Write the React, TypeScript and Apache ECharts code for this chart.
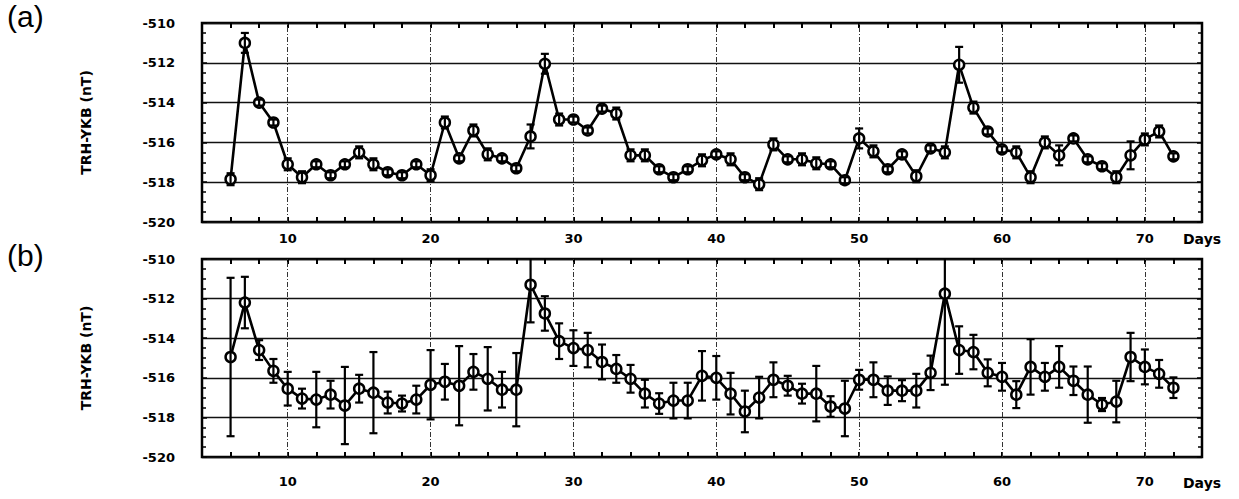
import React, { useEffect, useRef } from "react";
import * as echarts from "echarts";

const days = [6, 7, 8, 9, 10, 11, 12, 13, 14, 15, 16, 17, 18, 19, 20, 21, 22, 23, 24, 25, 26, 27, 28, 29, 30, 31, 32, 33, 34, 35, 36, 37, 38, 39, 40, 41, 42, 43, 44, 45, 46, 47, 48, 49, 50, 51, 52, 53, 54, 55, 56, 57, 58, 59, 60, 61, 62, 63, 64, 65, 66, 67, 68, 69, 70, 71, 72];

const valuesA = [-517.85, -511.0, -514.0, -515.0, -517.1, -517.75, -517.1, -517.65, -517.1, -516.5, -517.1, -517.5, -517.65, -517.1, -517.65, -515.0, -516.8, -515.4, -516.6, -516.8, -517.3, -515.7, -512.05, -514.85, -514.85, -515.4, -514.3, -514.55, -516.65, -516.65, -517.35, -517.75, -517.35, -516.9, -516.6, -516.85, -517.75, -518.1, -516.1, -516.85, -516.85, -517.05, -517.1, -517.9, -515.8, -516.45, -517.35, -516.6, -517.7, -516.3, -516.5, -512.1, -514.25, -515.45, -516.35, -516.5, -517.75, -516.0, -516.65, -515.8, -516.85, -517.2, -517.75, -516.65, -515.85, -515.45, -516.7];
const errorsA = [0.3, 0.5, 0.15, 0.15, 0.3, 0.3, 0.15, 0.15, 0.15, 0.3, 0.3, 0.15, 0.15, 0.15, 0.3, 0.3, 0.15, 0.3, 0.3, 0.15, 0.15, 0.6, 0.5, 0.3, 0.15, 0.15, 0.15, 0.3, 0.3, 0.3, 0.15, 0.15, 0.15, 0.3, 0.15, 0.3, 0.15, 0.3, 0.3, 0.15, 0.3, 0.3, 0.15, 0.15, 0.5, 0.3, 0.15, 0.15, 0.3, 0.15, 0.3, 0.9, 0.3, 0.15, 0.15, 0.3, 0.3, 0.3, 0.5, 0.15, 0.15, 0.15, 0.3, 0.7, 0.3, 0.3, 0.15];

const valuesB = [-514.95, -512.2, -514.6, -515.65, -516.55, -517.05, -517.1, -516.85, -517.4, -516.55, -516.75, -517.25, -517.3, -517.1, -516.35, -516.2, -516.4, -515.7, -516.05, -516.6, -516.6, -511.3, -512.75, -514.15, -514.5, -514.6, -515.2, -515.55, -516.05, -516.8, -517.3, -517.15, -517.15, -515.9, -516.0, -516.8, -517.7, -517.0, -516.1, -516.4, -516.8, -516.8, -517.45, -517.55, -516.1, -516.1, -516.65, -516.65, -516.65, -515.75, -511.75, -514.6, -514.7, -515.75, -515.95, -516.85, -515.45, -515.95, -515.45, -516.15, -516.85, -517.35, -517.2, -514.95, -515.45, -515.8, -516.5];
const errorsB = [4.0, 1.3, 0.5, 0.6, 0.85, 0.5, 1.4, 0.7, 1.95, 0.7, 2.05, 0.55, 0.4, 0.7, 1.75, 0.9, 2.0, 0.9, 1.6, 0.9, 1.85, 1.9, 0.87, 0.9, 0.9, 0.87, 0.88, 0.7, 0.7, 0.7, 0.52, 0.9, 0.9, 1.25, 1.1, 1.05, 1.05, 1.05, 0.88, 0.5, 0.5, 1.4, 0.52, 1.4, 0.5, 0.88, 0.72, 0.53, 0.85, 0.87, 4.6, 1.2, 0.87, 0.68, 0.7, 0.68, 1.4, 0.7, 1.05, 0.72, 1.42, 0.33, 1.05, 1.22, 0.88, 0.7, 0.52];

const xMin = 4;
const xMax = 74;
const yMin = -520;
const yMax = -510;
const majorDays = [10, 20, 30, 40, 50, 60, 70];
const yAxisTitle = "TRH-YKB (nT)";
const panelLabels = ["(a)", "(b)"];
const unitLabel = "Days";

const FONT = "Liberation Sans, Arial, Helvetica, sans-serif";
const BOLD = "DejaVu Sans, Liberation Sans, sans-serif";

export default function App() {
  const ref = useRef<HTMLDivElement>(null);

  useEffect(() => {
    if (!ref.current) return;
    const chart = echarts.init(ref.current, null, { renderer: "svg" });

    const grids = [
      { left: 202, top: 23, width: 1000, height: 199 },
      { left: 202, top: 259, width: 1000, height: 198 },
    ];

    const xAxes: any[] = [];
    const yAxes: any[] = [];
    grids.forEach((g, i) => {
      xAxes.push({
        type: "value",
        gridIndex: i,
        min: xMin,
        max: xMax,
        interval: 2,
        position: "bottom",
        axisLine: { show: false },
        axisTick: { show: true, inside: true, length: 5, lineStyle: { color: "#000", width: 2 } },
        splitLine: { show: false },
        axisLabel: {
          margin: i === 0 ? 10 : 18,
          fontFamily: BOLD,
          fontWeight: "bold",
          fontSize: 13,
          color: "#000",
          formatter: (v: number) => (majorDays.indexOf(v) >= 0 ? String(v) : ""),
        },
      });
      xAxes.push({
        type: "value",
        gridIndex: i,
        min: xMin,
        max: xMax,
        interval: 2,
        position: "top",
        axisLine: { show: false },
        axisTick: { show: true, inside: true, length: 5, lineStyle: { color: "#000", width: 2 } },
        splitLine: { show: false },
        axisLabel: { show: false },
      });
      yAxes.push({
        type: "value",
        gridIndex: i,
        min: yMin,
        max: yMax,
        interval: 2,
        position: "left",
        name: yAxisTitle,
        nameLocation: "middle",
        nameGap: 109,
        nameRotate: 90,
        nameTextStyle: { fontFamily: BOLD, fontWeight: "bold", fontSize: 14, color: "#000" },
        axisLine: { show: false },
        axisTick: { show: true, inside: true, length: 5, lineStyle: { color: "#000", width: 1.5 } },
        minorTick: { show: true, splitNumber: 4, length: 4, lineStyle: { color: "#000", width: 1.5 } },
        splitLine: { show: true, lineStyle: { color: "#111", width: 1.3 } },
        axisLabel: {
          margin: 27,
          fontFamily: BOLD,
          fontWeight: "bold",
          fontSize: 13,
          color: "#000",
        },
      });
      yAxes.push({
        type: "value",
        gridIndex: i,
        min: yMin,
        max: yMax,
        interval: 2,
        position: "right",
        axisLine: { show: false },
        axisTick: { show: true, inside: true, length: 5, lineStyle: { color: "#000", width: 1.5 } },
        minorTick: { show: true, splitNumber: 4, length: 4, lineStyle: { color: "#000", width: 1.5 } },
        splitLine: { show: false },
        axisLabel: { show: false },
      });
    });

    const errRender = (params: any, api: any) => {
      const x = api.value(0);
      const lo = api.value(1);
      const hi = api.value(2);
      const pTop = api.coord([x, hi]);
      const pBot = api.coord([x, lo]);
      const cap = 4;
      const style = { stroke: "#000", lineWidth: 2.2 };
      return {
        type: "group",
        children: [
          { type: "line", shape: { x1: pTop[0], y1: pTop[1], x2: pBot[0], y2: pBot[1] }, style },
          { type: "line", shape: { x1: pTop[0] - cap, y1: pTop[1], x2: pTop[0] + cap, y2: pTop[1] }, style },
          { type: "line", shape: { x1: pBot[0] - cap, y1: pBot[1], x2: pBot[0] + cap, y2: pBot[1] }, style },
        ],
      };
    };

    const panels = [
      { vals: valuesA, errs: errorsA },
      { vals: valuesB, errs: errorsB },
    ];

    const series: any[] = [];
    panels.forEach((p, i) => {
      const xi = i * 2;
      const yi = i * 2;
      series.push({
        type: "line",
        xAxisIndex: xi,
        yAxisIndex: yi,
        data: days.map((d, k) => [d, p.vals[k]]),
        symbol: "circle",
        symbolSize: 10,
        showSymbol: true,
        itemStyle: { color: "#fff", borderColor: "#000", borderWidth: 2.5 },
        lineStyle: { color: "#000", width: 2.6 },
        z: 3,
        markLine: {
          silent: true,
          symbol: "none",
          label: { show: false },
          lineStyle: { color: "#333", width: 1, type: [5, 2, 1, 2] },
          data: majorDays.map((d) => ({ xAxis: d })),
          z: 1,
        },
      });
      series.push({
        type: "custom",
        xAxisIndex: xi,
        yAxisIndex: yi,
        clip: true,
        renderItem: errRender,
        data: days.map((d, k) => [d, p.vals[k] - p.errs[k], p.vals[k] + p.errs[k]]),
        encode: { x: 0, y: [1, 2] },
        z: 4,
      });
    });

    chart.setOption({
      animation: false,
      backgroundColor: "#fff",
      grid: grids.map((g) => ({
        ...g,
        show: true,
        borderColor: "#000",
        borderWidth: 2.5,
        backgroundColor: "transparent",
      })),
      xAxis: xAxes,
      yAxis: yAxes,
      series,
      graphic: [
        { type: "text", left: 7, top: 1, style: { text: panelLabels[0], fontFamily: FONT, fontSize: 30, fill: "#000" } },
        { type: "text", left: 7, top: 240, style: { text: panelLabels[1], fontFamily: FONT, fontSize: 30, fill: "#000" } },
        { type: "text", left: 1183, top: 232, style: { text: unitLabel, fontFamily: BOLD, fontWeight: "bold", fontSize: 14, fill: "#000" } },
        { type: "text", left: 1183, top: 476, style: { text: unitLabel, fontFamily: BOLD, fontWeight: "bold", fontSize: 14, fill: "#000" } },
      ],
    });

    return () => chart.dispose();
  }, []);

  return (
    <div
      ref={ref}
      style={{ position: "fixed", left: 0, top: 0, width: 1239, height: 499, background: "#fff" }}
    />
  );
}
